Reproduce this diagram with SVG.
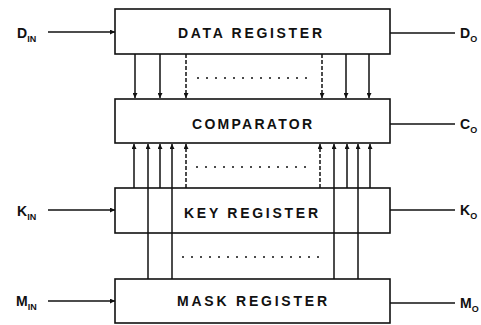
<svg xmlns="http://www.w3.org/2000/svg" width="481" height="325" viewBox="0 0 481 325">
<style>
.box{fill:#fff;stroke:#111;stroke-width:1.6}
.ln{stroke:#111;stroke-width:1.5;fill:none}
.dash{stroke:#111;stroke-width:1.5;fill:none;stroke-dasharray:4,2}
.dot{stroke:#111;stroke-width:1.5;fill:none;stroke-dasharray:2,7}
.t{font-family:"Liberation Sans",Arial,sans-serif;font-size:14px;font-weight:bold;fill:#111}
.l{font-family:"Liberation Sans",Arial,sans-serif;font-size:14px;font-weight:bold;fill:#111}
.s{font-size:9px}
</style>
<defs>
<marker id="ah" viewBox="0 0 10 10" refX="10" refY="5" markerWidth="5" markerHeight="5" orient="auto" markerUnits="userSpaceOnUse">
<path d="M0,0 L10,5 L0,10 z" fill="#111"/>
</marker>
</defs>
<g id="data-register">
<rect class="box" x="115" y="9" width="275" height="45"/>
<text class="t" x="178" y="38" textLength="144" lengthAdjust="spacing">DATA REGISTER</text>
</g>
<g id="comparator">
<rect class="box" x="115" y="99" width="275" height="44"/>
<text class="t" x="192" y="129" textLength="120" lengthAdjust="spacing">COMPARATOR</text>
</g>
<g id="key-register">
<rect class="box" x="115" y="188" width="275" height="45"/>
<text class="t" x="184" y="218" textLength="134" lengthAdjust="spacing">KEY REGISTER</text>
</g>
<g id="mask-register">
<rect class="box" x="115" y="279" width="275" height="44"/>
<text class="t" x="177" y="306" textLength="150" lengthAdjust="spacing">MASK REGISTER</text>
</g>
<g id="connectors">
<line class="ln" x1="135" y1="54" x2="135" y2="98" marker-end="url(#ah)"/>
<line class="ln" x1="160" y1="54" x2="160" y2="98" marker-end="url(#ah)"/>
<line class="dash" x1="186" y1="54" x2="186" y2="98" marker-end="url(#ah)"/>
<line class="dash" x1="322" y1="54" x2="322" y2="98" marker-end="url(#ah)"/>
<line class="ln" x1="346" y1="54" x2="346" y2="98" marker-end="url(#ah)"/>
<line class="ln" x1="369" y1="54" x2="369" y2="98" marker-end="url(#ah)"/>
<line class="dot" x1="197" y1="78" x2="314" y2="78"/>
<line class="ln" x1="134" y1="188" x2="134" y2="144" marker-end="url(#ah)"/>
<line class="ln" x1="160" y1="188" x2="160" y2="144" marker-end="url(#ah)"/>
<line class="dash" x1="186" y1="188" x2="186" y2="144" marker-end="url(#ah)"/>
<line class="dash" x1="320" y1="188" x2="320" y2="144" marker-end="url(#ah)"/>
<line class="ln" x1="347" y1="188" x2="347" y2="144" marker-end="url(#ah)"/>
<line class="ln" x1="370" y1="188" x2="370" y2="144" marker-end="url(#ah)"/>
<line class="ln" x1="148" y1="279" x2="148" y2="144" marker-end="url(#ah)"/>
<line class="ln" x1="172" y1="279" x2="172" y2="144" marker-end="url(#ah)"/>
<line class="ln" x1="334" y1="279" x2="334" y2="144" marker-end="url(#ah)"/>
<line class="ln" x1="358" y1="279" x2="358" y2="144" marker-end="url(#ah)"/>
<line class="dot" x1="196" y1="167" x2="312" y2="167"/>
<line class="dot" x1="182" y1="257" x2="322" y2="257"/>
<line class="ln" x1="48" y1="32" x2="115" y2="32" marker-end="url(#ah)"/>
<line class="ln" x1="48" y1="210" x2="115" y2="210" marker-end="url(#ah)"/>
<line class="ln" x1="48" y1="301" x2="115" y2="301" marker-end="url(#ah)"/>
<line class="ln" x1="390" y1="33" x2="455" y2="33"/>
<line class="ln" x1="390" y1="124" x2="455" y2="124"/>
<line class="ln" x1="390" y1="210" x2="455" y2="210"/>
<line class="ln" x1="390" y1="303" x2="455" y2="303"/>
</g>
<g id="labels">
<text class="l" x="17" y="38">D<tspan class="s" dy="4">IN</tspan></text>
<text class="l" x="17" y="216">K<tspan class="s" dy="4">IN</tspan></text>
<text class="l" x="16" y="306">M<tspan class="s" dy="4">IN</tspan></text>
<text class="l" x="460" y="38">D<tspan class="s" dy="4">O</tspan></text>
<text class="l" x="460" y="129">C<tspan class="s" dy="4">O</tspan></text>
<text class="l" x="460" y="215">K<tspan class="s" dy="4">O</tspan></text>
<text class="l" x="460" y="308">M<tspan class="s" dy="4">O</tspan></text>
</g>
</svg>
